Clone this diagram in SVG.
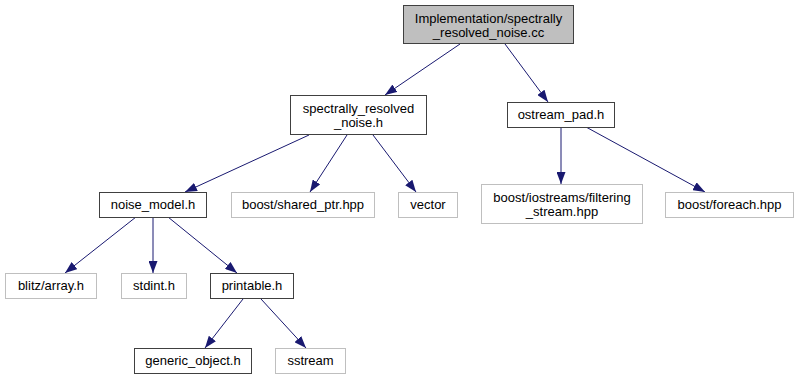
<svg xmlns="http://www.w3.org/2000/svg" width="798" height="380" viewBox="0 0 798 380">
  <style>
    text { font-family: "Liberation Sans", Arial, sans-serif; font-size: 13px; fill: #000; text-anchor: middle; }
    .node rect { fill: #fff; stroke: #404040; stroke-width: 1; }
    .node.ext rect { stroke: #bfbfbf; }
    .node.root rect { fill: #bfbfbf; stroke: #404040; }
    .edge { fill: none; stroke: #191970; stroke-width: 1; marker-end: url(#arrow); }
  </style>
  <defs>
    <marker id="arrow" viewBox="0 0 12 9" refX="12" refY="4.5" markerWidth="12" markerHeight="9" markerUnits="userSpaceOnUse" orient="auto">
      <path d="M0,0 L12,4.5 L0,9 Z" fill="#191970"/>
    </marker>
  </defs>
  <rect width="798" height="380" fill="#fff"/>

  <g id="edges">
    <path class="edge" d="M460,44 L385,95"/>
    <path class="edge" d="M505,44 L548,102"/>
    <path class="edge" d="M309,135 L185,192"/>
    <path class="edge" d="M347,135 L310,192"/>
    <path class="edge" d="M373,135 L416,192"/>
    <path class="edge" d="M561,127 L561,184"/>
    <path class="edge" d="M586,127 L705,192"/>
    <path class="edge" d="M136,217 L65,273"/>
    <path class="edge" d="M153,217 L153,273"/>
    <path class="edge" d="M168,217 L237,273"/>
    <path class="edge" d="M243,299 L205,348"/>
    <path class="edge" d="M261,299 L306,348"/>
  </g>

  <g id="node-root" class="node root">
    <rect x="403.5" y="5.5" width="170" height="38"/>
    <text x="488.5" y="23">Implementation/spectrally</text>
    <text x="488.5" y="37">_resolved_noise.cc</text>
  </g>
  <g id="node-spectrally-resolved-noise-h" class="node">
    <rect x="290.5" y="95.5" width="136" height="39"/>
    <text x="358.5" y="113">spectrally_resolved</text>
    <text x="358.5" y="127">_noise.h</text>
  </g>
  <g id="node-ostream-pad-h" class="node">
    <rect x="507.5" y="102.5" width="107" height="25"/>
    <text x="561" y="119">ostream_pad.h</text>
  </g>
  <g id="node-noise-model-h" class="node">
    <rect x="99.5" y="192.5" width="107" height="25"/>
    <text x="153" y="209">noise_model.h</text>
  </g>
  <g id="node-shared-ptr-hpp" class="node ext">
    <rect x="231.5" y="192.5" width="143" height="25"/>
    <text x="303" y="209">boost/shared_ptr.hpp</text>
  </g>
  <g id="node-vector" class="node ext">
    <rect x="398.5" y="192.5" width="59" height="25"/>
    <text x="428" y="209">vector</text>
  </g>
  <g id="node-filtering-stream-hpp" class="node ext">
    <rect x="481.5" y="184.5" width="161" height="39"/>
    <text x="562" y="202">boost/iostreams/filtering</text>
    <text x="562" y="216">_stream.hpp</text>
  </g>
  <g id="node-foreach-hpp" class="node ext">
    <rect x="665.5" y="192.5" width="128" height="25"/>
    <text x="729.5" y="209">boost/foreach.hpp</text>
  </g>
  <g id="node-blitz-array-h" class="node ext">
    <rect x="5.5" y="273.5" width="91" height="25"/>
    <text x="51" y="290">blitz/array.h</text>
  </g>
  <g id="node-stdint-h" class="node ext">
    <rect x="121.5" y="273.5" width="65" height="25"/>
    <text x="154" y="290">stdint.h</text>
  </g>
  <g id="node-printable-h" class="node">
    <rect x="210.5" y="273.5" width="83" height="25"/>
    <text x="252" y="290">printable.h</text>
  </g>
  <g id="node-generic-object-h" class="node">
    <rect x="134.5" y="348.5" width="117" height="25"/>
    <text x="193" y="365">generic_object.h</text>
  </g>
  <g id="node-sstream" class="node ext">
    <rect x="275.5" y="348.5" width="70" height="25"/>
    <text x="310.5" y="365">sstream</text>
  </g>
</svg>
